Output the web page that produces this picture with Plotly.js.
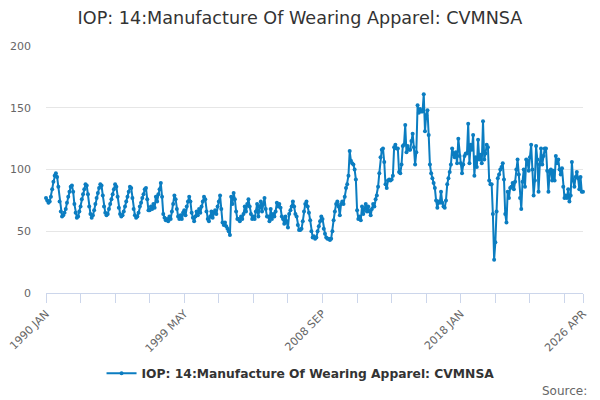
<!DOCTYPE html>
<html>
<head>
<meta charset="utf-8">
<script src="https://cdn.plot.ly/plotly-3.0.1.min.js"></script>
<style>html,body{margin:0;padding:0;background:#fff;}#chart{width:600px;height:400px;}</style>
</head>
<body>
<div id="chart"></div>
<script>
var seriesName = "IOP: 14:Manufacture Of Wearing Apparel: CVMNSA";
var startYear = 1990;
var monthNames = ["JAN","FEB","MAR","APR","MAY","JUN","JUL","AUG","SEP","OCT","NOV","DEC"];
var tickLabels = ["1990 JAN","1999 MAY","2008 SEP","2018 JAN","2026 APR"];

var values1990s = [
  77,75,73,74,78,84,90,95,97,94,86,74,
  66,62,63,65,68,73,78,82,86,87,82,72,
  65,61,62,66,70,76,80,84,88,87,80,70,
  64,61,63,67,72,77,81,85,88,87,79,70,
  65,63,64,68,72,76,80,84,88,86,78,69,
  64,62,63,66,70,74,78,82,86,85,77,68,
  63,61,62,65,70,73,77,80,84,85,76,67,
  67,70,68,72,69,78,74,80,84,89,78,64,
  61,59,60,58,62,60,66,72,79,76,68,62,
  60,63,60,65,67,63,70,74,78,74,65,61
];
var values2000s = [
  58,62,66,63,68,65,70,74,78,76,66,60,
  58,62,66,61,65,67,64,70,74,79,68,57,
  55,57,54,52,50,47,78,72,81,76,66,60,
  60,58,62,60,64,70,66,72,76,70,64,60,
  62,60,66,72,62,70,74,66,72,77,68,62,
  62,58,68,60,64,62,66,73,70,72,69,62,
  60,56,62,58,53,64,67,70,74,70,64,62,
  55,51,51,52,58,66,72,74,70,65,59,50,
  45,46,44,45,50,54,58,62,60,52,48,45,
  44,44,43,44,50,59,66,72,74,70,63,72
];
var values2010s = [
  74,72,78,85,88,95,115,107,105,104,100,92,
  67,60,62,59,70,64,68,72,66,70,66,63,
  68,72,70,76,79,86,97,110,116,117,106,88,
  85,91,92,91,92,95,118,120,117,117,98,97,
  104,119,120,136,114,119,116,116,123,129,118,104,
  114,152,146,149,147,147,161,131,144,148,128,104,
  97,93,89,85,75,69,74,73,82,73,70,69,
  75,88,93,98,104,117,112,110,114,105,125,111,
  105,97,104,111,113,113,137,105,120,116,128,95,
  110,102,124,108,112,105,139,108,113,120,118,91
];
var values2020s = [
  88,88,64,27,41,66,93,96,100,102,105,92,
  64,57,82,77,85,86,89,84,90,100,108,96,
  77,68,90,100,86,108,107,99,110,120,100,79,
  91,119,108,82,104,117,104,111,117,117,99,82,
  98,100,91,99,91,111,105,108,100,96,101,86,
  77,79,77,84,74,79,106,91,86,94,98,93,
  84,94,82,82
];

var values = values1990s.concat(values2000s, values2010s, values2020s);
var categories = values.map(function(_, i){
  return (startYear + Math.floor(i/12)) + " " + monthNames[i % 12];
});

// ticks every 28 months, labels every 4th tick, plus the final month
var tickEvery = 28;
var tickvals = [], ticktext = [];
for (var i = 0; i < categories.length; i += tickEvery) {
  tickvals.push(categories[i]);
  ticktext.push(tickLabels.indexOf(categories[i]) >= 0 ? categories[i] : "");
}
var lastCat = categories[categories.length - 1];
tickvals.push(lastCat);
ticktext.push(lastCat);

var color = "#0b7dc1";
var trace = {
  type: "scatter",
  mode: "lines+markers",
  x: categories,
  y: values,
  name: seriesName,
  line: {color: color, width: 2},
  marker: {color: color, size: 4},
  cliponaxis: false,
  hoverinfo: "x+y"
};

var layout = {
  width: 600, height: 400,
  margin: {l: 46, r: 17, t: 46, b: 107},
  paper_bgcolor: "#ffffff",
  plot_bgcolor: "#ffffff",
  font: {family: "DejaVu Sans, sans-serif", color: "#666666", size: 11},
  title: {
    text: seriesName,
    x: 0.5, xanchor: "center",
    y: 0.955, yanchor: "middle",
    font: {family: "DejaVu Sans, sans-serif", size: 17.6, color: "#333333"}
  },
  xaxis: {
    type: "category",
    range: [0, categories.length - 1],
    tickmode: "array",
    tickvals: tickvals,
    ticktext: ticktext,
    tickangle: -45,
    ticks: "outside",
    ticklen: 9,
    tickcolor: "#ccd6eb",
    showline: true,
    linecolor: "#ccd6eb",
    linewidth: 1,
    showgrid: false,
    zeroline: false,
    tickfont: {size: 11, color: "#666666"}
  },
  yaxis: {
    range: [0, 200],
    tickvals: [0, 50, 100, 150, 200],
    showgrid: true,
    gridcolor: "#e6e6e6",
    gridwidth: 1,
    zeroline: false,
    showline: false,
    ticks: "",
    ticklabelstandoff: 14,
    tickfont: {size: 11, color: "#666666"}
  },
  showlegend: true,
  legend: {
    orientation: "h",
    x: 0.474, xanchor: "center",
    y: -0.325, yanchor: "middle",
    font: {size: 12.3, color: "#333333", weight: "bold"}
  },
  annotations: [{
    text: "Source:",
    xref: "paper", yref: "paper",
    x: 1.012, xanchor: "right",
    y: -0.395, yanchor: "middle",
    showarrow: false,
    font: {size: 12, color: "#666666"}
  }]
};

Plotly.newPlot("chart", [trace], layout, {displayModeBar: false, staticPlot: true});
</script>
</body>
</html>
